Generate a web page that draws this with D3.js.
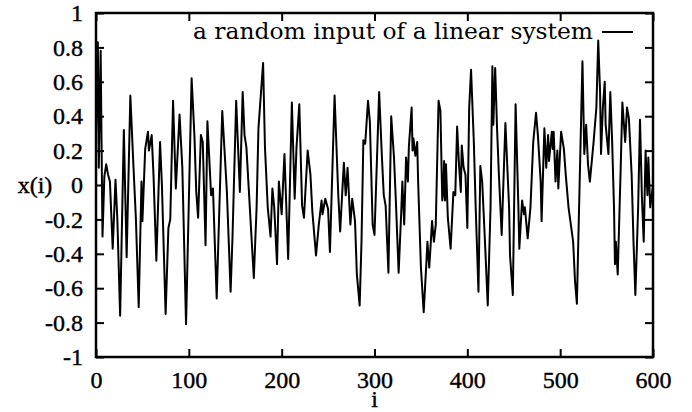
<!DOCTYPE html>
<html>
<head>
<meta charset="utf-8">
<script src="https://cdn.jsdelivr.net/npm/d3@7"></script>
<style>
  body { margin: 0; background: #fff; }
  svg { display: block; }
  text { font-family: "Liberation Serif", "DejaVu Serif", serif; fill: #000; }
</style>
</head>
<body>
<div id="chart"></div>
<script>
// sample index and value (turning points of the trace)
const idx = [0, 2, 3, 5, 7, 9, 11, 13, 15, 18, 21, 23, 26, 30, 33, 37, 40, 43, 46, 49,
  50, 53, 56, 57, 60, 62, 65, 69, 71, 75, 78, 80, 83, 86, 90, 93, 97, 103, 106, 108,
  110, 113, 115, 118, 120, 124, 126, 130, 136, 141, 145, 147, 151, 155, 158, 160, 162, 170, 173, 175,
  180, 182, 185, 188, 190, 192, 195, 197, 200, 203, 207, 211, 214, 216, 219, 222, 224, 228, 231, 233,
  237, 240, 243, 244, 247, 250, 252, 257, 261, 263, 267, 269, 271, 274, 276, 279, 281, 284, 286, 288,
  290, 293, 295, 298, 300, 305, 308, 310, 312, 315, 318, 321, 323, 326, 329, 330, 332, 334, 336, 337,
  340, 341, 342, 344, 346, 347, 350, 353, 356, 357, 359, 362, 364, 366, 369, 371, 373, 374, 375, 376,
  377, 379, 382, 385, 387, 389, 391, 393, 394, 396, 398, 400, 402, 404, 407, 409, 412, 414, 416, 419,
  422, 425, 427, 428, 430, 432, 434, 437, 441, 445, 446, 449, 452, 455, 456, 459, 461, 462, 465, 468,
  471, 474, 476, 479, 480, 483, 485, 487, 488, 491, 492, 493, 495, 497, 498, 501, 504, 506, 509, 511,
  514, 516, 518, 522, 524, 526, 528, 530, 532, 536, 539, 541, 543, 544, 546, 548, 549, 552, 554, 556,
  558, 559, 560, 562, 565, 567, 570, 572, 574, 577, 579, 581, 584, 586, 588, 590, 592, 594, 595, 597,
  600];
const vals = [0.30, 0.83, 0.10, 0.78, -0.30, 0.05, 0.12, 0.06, 0.02, -0.37, 0.03, -0.20, -0.76, 0.32, -0.42, 0.52, 0.15, -0.20, -0.71, 0.02,
  -0.21, 0.21, 0.31, 0.20, 0.29, 0.05, -0.44, 0.25, 0.00, -0.75, -0.25, -0.20, 0.49, -0.02, 0.41, 0.10, -0.81, 0.62, 0.29, -0.04,
  -0.19, 0.29, 0.25, -0.35, 0.37, -0.06, -0.02, -0.66, 0.43, -0.04, -0.62, -0.31, 0.49, -0.04, 0.54, 0.29, 0.22, -0.54, -0.13, 0.33,
  0.71, 0.22, -0.13, -0.30, -0.02, -0.13, -0.46, 0.02, -0.17, 0.18, -0.43, 0.48, -0.08, 0.22, 0.47, -0.12, -0.19, 0.20, 0.06, -0.15,
  -0.41, -0.23, -0.09, -0.17, -0.08, -0.14, -0.39, 0.52, -0.06, -0.27, 0.13, -0.06, 0.10, -0.23, -0.08, -0.21, -0.52, -0.70, -0.33, 0.26,
  0.24, 0.49, 0.37, -0.23, -0.29, 0.54, 0.16, -0.06, -0.12, -0.51, 0.40, 0.16, -0.09, -0.51, -0.13, 0.02, -0.23, 0.16, 0.02, 0.22,
  0.45, 0.20, 0.27, 0.17, 0.25, 0.02, -0.48, -0.74, -0.44, -0.33, -0.48, -0.21, -0.33, -0.23, 0.49, 0.43, -0.09, -0.05, 0.14, -0.09,
  0.12, -0.19, -0.37, -0.04, -0.06, 0.34, 0.12, -0.04, 0.23, 0.10, 0.06, -0.25, 0.45, 0.67, 0.25, -0.13, -0.62, 0.11, 0.02, -0.33,
  -0.70, -0.13, 0.69, 0.35, 0.68, 0.33, 0.06, -0.29, 0.36, -0.13, -0.41, -0.64, 0.47, -0.13, -0.37, -0.09, -0.17, -0.13, -0.31, -0.13,
  0.25, 0.42, 0.29, 0.02, -0.21, 0.33, 0.10, 0.29, 0.14, 0.31, 0.21, 0.31, 0.02, 0.20, -0.02, 0.31, 0.21, 0.06, -0.13, -0.21,
  -0.33, -0.56, -0.69, 0.25, 0.72, 0.18, 0.35, 0.12, 0.02, 0.25, 0.45, 0.84, 0.54, 0.18, 0.45, 0.60, 0.35, 0.18, 0.54, 0.25,
  -0.13, -0.46, -0.33, -0.52, 0.06, 0.48, 0.25, 0.45, 0.39, 0.06, -0.33, -0.64, -0.13, 0.38, -0.06, -0.33, 0.20, -0.06, 0.16, -0.13,
  0.00];

const xTicks = [0, 100, 200, 300, 400, 500, 600];
const yTicks = [-1, -0.8, -0.6, -0.4, -0.2, 0, 0.2, 0.4, 0.6, 0.8, 1];
const seriesLabel = "a random input of a linear system";

const width = 692, height = 412;
const margin = { top: 13, right: 39, bottom: 55, left: 96 };
const innerWidth = width - margin.left - margin.right;
const innerHeight = height - margin.top - margin.bottom;

const svg = d3.select("#chart")
    .append("svg")
    .attr("width", width)
    .attr("height", height);

const g = svg.append("g")
    .attr("transform", `translate(${margin.left},${margin.top})`);

const x = d3.scaleLinear().domain([0, 600]).range([0, innerWidth]);
const y = d3.scaleLinear().domain([-1, 1]).range([innerHeight, 0]);

const fmt = d => String(d);
const tick = 8;

// axes, ticks pointing inward on all four sides
const styleAxis = sel => {
    sel.select(".domain").remove();
    sel.selectAll(".tick line").attr("stroke", "#000").attr("stroke-width", 2);
    sel.selectAll(".tick text")
        .style("font-size", "24px")
        .style("stroke", "#000")
        .style("stroke-width", 0.4);
};

g.append("g")
    .attr("transform", `translate(0,${innerHeight})`)
    .call(d3.axisBottom(x).tickValues(xTicks).tickFormat(fmt).tickSizeInner(-tick).tickSizeOuter(0).tickPadding(14))
    .call(styleAxis);

g.append("g")
    .call(d3.axisTop(x).tickValues(xTicks).tickSizeInner(-tick).tickSizeOuter(0))
    .call(styleAxis)
    .selectAll("text").remove();

g.append("g")
    .call(d3.axisLeft(y).tickValues(yTicks).tickFormat(fmt).tickSizeInner(-tick).tickSizeOuter(0).tickPadding(13))
    .call(styleAxis);

g.append("g")
    .attr("transform", `translate(${innerWidth},0)`)
    .call(d3.axisRight(y).tickValues(yTicks).tickSizeInner(-tick).tickSizeOuter(0))
    .call(styleAxis)
    .selectAll("text").remove();

// the trace
const points = idx.map((d, k) => [d, vals[k]]);
g.append("path")
    .datum(points)
    .attr("fill", "none")
    .attr("stroke", "#000")
    .attr("stroke-width", 2)
    .attr("stroke-linejoin", "round")
    .attr("d", d3.line().x(d => x(d[0])).y(d => y(d[1])));

// frame
g.append("rect")
    .attr("width", innerWidth)
    .attr("height", innerHeight)
    .attr("fill", "none")
    .attr("stroke", "#000")
    .attr("stroke-width", 2.5);

// key
g.append("text")
    .attr("x", 497)
    .attr("y", 26)
    .attr("text-anchor", "end")
    .attr("textLength", 400)
    .attr("lengthAdjust", "spacingAndGlyphs")
    .style("font-family", "'DejaVu Serif', serif")
    .style("font-size", "22px")
    .text(seriesLabel);

g.append("line")
    .attr("x1", 506).attr("x2", 537)
    .attr("y1", 19).attr("y2", 19)
    .attr("stroke", "#000")
    .attr("stroke-width", 2);

// axis titles
svg.append("text")
    .attr("x", margin.left + innerWidth / 2)
    .attr("y", 407)
    .attr("text-anchor", "middle")
    .style("font-size", "24px")
    .style("stroke", "#000")
    .style("stroke-width", 0.4)
    .text("i");

svg.append("text")
    .attr("x", 35)
    .attr("y", margin.top + y(0))
    .attr("dy", "0.35em")
    .attr("text-anchor", "middle")
    .style("font-size", "24px")
    .style("stroke", "#000")
    .style("stroke-width", 0.4)
    .text("x(i)");
</script>
</body>
</html>
